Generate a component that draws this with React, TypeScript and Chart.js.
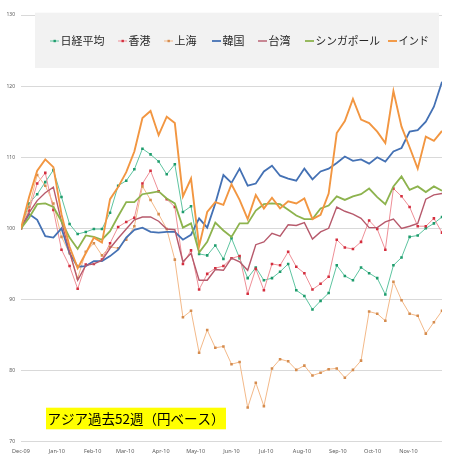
import React, { useEffect, useRef } from 'react';
import { Chart, registerables } from 'chart.js';

Chart.register(...registerables);

// ---------- data ----------
const seriesNames = ['日経平均', '香港', '上海', '韓国', '台湾', 'シンガポール', 'インド'];

const nikkei = [100, 103.5, 104.8, 106.5, 108.2, 104.4, 100.6, 99.2, 99.5, 99.9, 99.9, 102.2, 106.0, 106.7, 108.3, 111.2, 110.4, 109.4, 107.6, 109.0, 102.3, 103.1, 96.4, 96.2, 97.6, 95.7, 98.6, 95.8, 93.0, 94.5, 92.7, 93.0, 93.9, 95.0, 91.3, 90.5, 88.6, 89.8, 90.9, 94.8, 93.3, 92.7, 94.5, 93.7, 93.0, 90.7, 94.8, 95.9, 98.8, 99.0, 100.0, 100.7, 101.6];
const hongKong = [100, 102.5, 106.3, 107.8, 102.6, 97.0, 94.7, 91.5, 94.9, 95.0, 95.6, 97.9, 100.2, 100.9, 101.5, 106.3, 108.1, 105.2, 104.1, 103.0, 95.0, 96.9, 91.4, 93.6, 94.4, 94.7, 95.8, 96.1, 90.8, 94.3, 91.3, 95.0, 94.8, 96.7, 94.6, 93.7, 91.4, 92.2, 93.2, 98.4, 97.3, 97.1, 98.1, 101.1, 99.9, 97.0, 105.6, 104.5, 103.0, 100.3, 100.3, 101.4, 99.4];
const shanghai = [100, 103.0, 107.5, 106.0, 103.5, 98.8, 96.5, 93.0, 96.7, 97.9, 96.2, 97.4, 97.2, 98.4, 100.3, 105.9, 104.0, 102.0, 99.9, 95.6, 87.5, 88.4, 82.5, 85.7, 83.2, 83.4, 80.9, 81.2, 74.8, 78.3, 75.0, 80.3, 81.6, 81.3, 80.1, 80.7, 79.3, 79.7, 80.2, 80.3, 79.0, 80.1, 81.4, 88.3, 88.0, 87.0, 92.5, 89.9, 88.0, 87.7, 85.2, 86.8, 88.4];
const korea = [100, 102.0, 101.2, 98.9, 98.7, 100.0, 96.5, 94.6, 94.7, 95.4, 95.4, 96.1, 97.0, 98.7, 99.8, 100.1, 99.5, 99.4, 99.5, 99.5, 98.4, 99.1, 101.4, 100.1, 103.5, 107.5, 106.4, 108.4, 106.0, 106.3, 108.0, 108.8, 107.4, 107.0, 106.7, 108.4, 106.9, 108.0, 108.4, 109.2, 110.1, 109.5, 109.7, 109.1, 110.0, 109.4, 110.8, 111.3, 113.6, 113.8, 115.0, 117.1, 120.6];
const taiwan = [100, 102.2, 103.9, 105.0, 105.8, 100.9, 96.7, 92.7, 94.8, 95.0, 95.5, 97.2, 98.6, 99.9, 101.2, 101.6, 101.6, 101.0, 99.9, 99.8, 95.3, 96.5, 92.7, 92.7, 94.2, 94.1, 95.8, 95.3, 94.1, 97.7, 98.1, 99.3, 98.9, 100.5, 100.4, 100.8, 98.5, 99.5, 100.0, 103.0, 102.4, 102.0, 101.4, 100.1, 100.1, 100.9, 101.3, 100.0, 100.3, 100.7, 104.1, 104.7, 104.9];
const singapore = [100, 101.5, 103.4, 103.5, 103.0, 101.0, 98.7, 97.1, 99.0, 98.8, 98.4, 99.6, 101.7, 103.7, 103.7, 104.8, 105.0, 105.2, 104.2, 103.5, 100.1, 100.7, 96.6, 98.1, 100.8, 99.7, 98.8, 100.7, 100.7, 102.5, 103.4, 103.5, 103.4, 102.6, 101.8, 101.3, 101.3, 102.8, 103.2, 104.5, 104.0, 104.5, 104.8, 105.6, 104.4, 103.4, 105.9, 107.3, 105.4, 105.9, 105.1, 105.9, 105.3];
const india = [100, 104.4, 108.1, 109.7, 108.6, 102.0, 97.4, 94.4, 96.5, 98.7, 98.0, 104.1, 105.8, 107.9, 110.8, 115.5, 116.5, 113.1, 115.7, 114.8, 104.5, 107.0, 97.5, 102.3, 103.7, 103.3, 106.2, 104.0, 101.3, 104.7, 102.8, 104.3, 102.8, 103.8, 103.5, 104.2, 101.3, 101.9, 104.9, 113.4, 115.1, 118.2, 115.3, 114.8, 113.6, 112.0, 119.3, 114.3, 111.4, 108.4, 112.9, 112.3, 113.7];

// days since 2009-12-01 for each weekly close
const pointDays = nikkei.map((_, i) => i * 7);
const lastDay = 364;

// month ticks (days since 2009-12-01) and labels
const tickDays = [0, 31, 62, 90, 121, 151, 182, 212, 243, 274, 304, 335];
const tickLabels = ['Dec-09', 'Jan-10', 'Feb-10', 'Mar-10', 'Apr-10', 'May-10', 'Jun-10', 'Jul-10', 'Aug-10', 'Sep-10', 'Oct-10', 'Nov-10'];

const yMin = 70;
const yMax = 130;
const yStep = 10;

const titleText = 'アジア過去52週（円ベース）';

// ---------- styles ----------
const seriesValues = [nikkei, hongKong, shanghai, korea, taiwan, singapore, india];
const lineColors = ['#5ec4a0', '#ee8f97', '#f3b989', '#4471b4', '#b75a6c', '#8db34e', '#f29641'];
const markerColors = ['#1e9c6c', '#d42e3e', '#d58c4e', null, null, null, null];
const lineWidths = [1, 1, 1, 1.8, 1.4, 1.8, 1.9];
const legendSampleX = [50, 118, 164, 212, 258, 305, 388];

const CJK = '"Noto Sans CJK JP", "Noto Sans", sans-serif';

const overlayPlugin = {
  id: 'overlay',
  beforeDatasetsDraw(chart: any) {
    const ctx = chart.ctx as CanvasRenderingContext2D;
    const boxX = 35, boxY = 12.7, boxW = 404, boxH = 55.3;
    ctx.save();
    ctx.fillStyle = '#f2f2f2';
    ctx.fillRect(boxX, boxY, boxW, boxH);
    ctx.font = `11px ${CJK}`;
    ctx.textBaseline = 'middle';
    ctx.textAlign = 'left';
    const cy = 41;
    seriesNames.forEach((name, i) => {
      const sx = legendSampleX[i];
      ctx.strokeStyle = lineColors[i];
      ctx.lineWidth = Math.max(1, lineWidths[i]);
      ctx.beginPath();
      ctx.moveTo(sx, cy);
      ctx.lineTo(sx + 9, cy);
      ctx.stroke();
      const mc = markerColors[i];
      if (mc) {
        ctx.fillStyle = mc;
        ctx.fillRect(sx + 3.5, cy - 1.2, 2.4, 2.4);
      }
      ctx.fillStyle = '#262626';
      const tx = sx + 10.5;
      const next = i + 1 < legendSampleX.length ? legendSampleX[i + 1] - 8 : boxX + boxW - 10;
      ctx.fillText(name, tx, cy, next - tx);
    });
    ctx.restore();
  },
  afterDatasetsDraw(chart: any) {
    const ctx = chart.ctx as CanvasRenderingContext2D;
    ctx.save();
    ctx.font = `13.5px ${CJK}`;
    ctx.textBaseline = 'middle';
    ctx.textAlign = 'left';
    const tw = ctx.measureText(titleText).width;
    const rx = 46, ry = 407.7, rh = 21.6;
    ctx.fillStyle = '#ffff00';
    ctx.fillRect(rx, ry, tw + 3, rh);
    ctx.fillStyle = '#000000';
    ctx.fillText(titleText, rx + 1.5, ry + rh / 2 + 0.5);
    ctx.restore();
  },
};

export default function App() {
  const canvasRef = useRef<HTMLCanvasElement | null>(null);

  useEffect(() => {
    document.body.style.margin = '0';
    const canvas = canvasRef.current;
    if (!canvas) return;

    const datasets = seriesNames.map((name, i) => ({
      label: name,
      data: seriesValues[i].map((v, k) => ({ x: pointDays[k], y: v })),
      borderColor: lineColors[i],
      backgroundColor: lineColors[i],
      borderWidth: lineWidths[i],
      pointRadius: markerColors[i] ? 1.8 : 0,
      pointStyle: 'rect',
      pointBackgroundColor: markerColors[i] || lineColors[i],
      pointBorderWidth: 0,
      pointHoverRadius: 0,
      tension: 0,
      fill: false,
      order: seriesNames.length - 1 - i,
    }));

    const chart = new Chart(canvas, {
      type: 'line',
      data: { datasets },
      options: {
        animation: false,
        responsive: false,
        events: [],
        layout: { padding: { top: 15, right: 8, left: 0, bottom: 0 } },
        plugins: {
          legend: { display: false },
          tooltip: { enabled: false },
        },
        scales: {
          x: {
            type: 'linear',
            min: 0,
            max: lastDay,
            afterBuildTicks: (scale: any) => {
              scale.ticks = tickDays.map((v) => ({ value: v }));
            },
            afterFit: (scale: any) => {
              scale.height = 21.3;
            },
            ticks: {
              autoSkip: false,
              maxRotation: 0,
              minRotation: 0,
              padding: 6,
              color: '#595959',
              font: { size: 5.5, family: '"Noto Sans", sans-serif' },
              callback: (value: any) => {
                const idx = tickDays.indexOf(Number(value));
                return idx >= 0 ? tickLabels[idx] : '';
              },
            },
            grid: { display: false, drawTicks: false },
            border: { display: false },
          },
          y: {
            min: yMin,
            max: yMax,
            afterFit: (scale: any) => {
              scale.width = 21;
            },
            ticks: {
              stepSize: yStep,
              padding: 6,
              color: '#595959',
              font: { size: 5, family: '"Noto Sans", sans-serif' },
            },
            grid: { color: '#d9d9d9', lineWidth: 1, drawTicks: false },
            border: { display: false },
          },
        },
      },
      plugins: [overlayPlugin],
    } as any);

    return () => {
      chart.destroy();
    };
  }, []);

  return (
    <div style={{ width: 450, height: 463, background: '#ffffff' }}>
      <canvas ref={canvasRef} width={450} height={463} />
    </div>
  );
}
